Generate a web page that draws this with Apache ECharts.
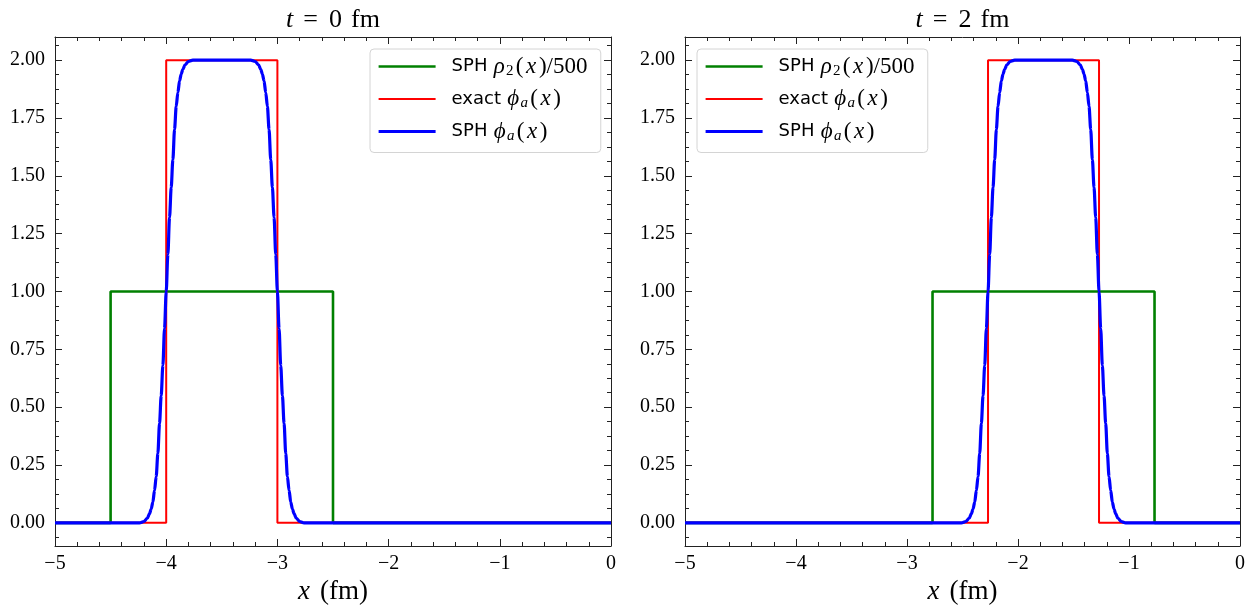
<!DOCTYPE html>
<html><head><meta charset="utf-8">
<script src="https://cdn.jsdelivr.net/npm/echarts@6/dist/echarts.min.js"></script>
<style>html,body{margin:0;padding:0;background:#fff}#c{width:1248px;height:607px}</style>
</head><body><div id="c"></div>
<script>
// ---- data ----
const panelTitles = ['0', '2']; // t = ... fm
const yMajorTicks = [0, 0.25, 0.5, 0.75, 1, 1.25, 1.5, 1.75, 2];
const yMinorTicks = [-0.0625, 0.0625, 0.125, 0.1875, 0.3125, 0.375, 0.4375, 0.5625, 0.625, 0.6875,
  0.8125, 0.875, 0.9375, 1.0625, 1.125, 1.1875, 1.3125, 1.375, 1.4375, 1.5625, 1.625, 1.6875,
  1.8125, 1.875, 1.9375, 2.0625];

// left panel (t = 0 fm)
const greenLeftX = [-5, -4.5, -4.5, -2.5, -2.5, 0];
const greenLeftY = [0, 0, 1, 1, 0, 0];
const redLeftX = [-5, -4, -4, -3, -3, 0];
const redLeftY = [0, 0, 2, 2, 0, 0];
const blueLeftX = [-5, -4.24, -4.20, -4.17, -4.15, -4.135, -4.12, -4.105, -4.09, -4.075, -4.06, -4.045, -4.03, -4.015,
  -4.0, -3.985, -3.97, -3.955, -3.94, -3.925, -3.91, -3.895, -3.88, -3.865, -3.85, -3.83, -3.80, -3.76,
  -3.24, -3.20, -3.17, -3.15, -3.135, -3.12, -3.105, -3.09, -3.075, -3.06, -3.045, -3.03, -3.015,
  -3.0, -2.985, -2.97, -2.955, -2.94, -2.925, -2.91, -2.895, -2.88, -2.865, -2.85, -2.83, -2.80, -2.76, 0];
const blueLeftY = [0, 0, 0.006, 0.02, 0.04, 0.06, 0.09, 0.14, 0.2, 0.3, 0.43, 0.55, 0.68, 0.84,
  1.0, 1.16, 1.32, 1.45, 1.57, 1.7, 1.8, 1.86, 1.91, 1.94, 1.96, 1.98, 1.994, 2.0,
  2.0, 1.994, 1.98, 1.96, 1.94, 1.91, 1.86, 1.8, 1.7, 1.57, 1.45, 1.32, 1.16,
  1.0, 0.84, 0.68, 0.55, 0.43, 0.3, 0.2, 0.14, 0.09, 0.06, 0.04, 0.02, 0.006, 0, 0];

// right panel (t = 2 fm)
const greenRightX = [-5, -2.77, -2.77, -0.77, -0.77, 0];
const greenRightY = [0, 0, 1, 1, 0, 0];
const redRightX = [-5, -2.27, -2.27, -1.27, -1.27, 0];
const redRightY = [0, 0, 2, 2, 0, 0];
const blueRightX = [-5, -2.51, -2.47, -2.44, -2.42, -2.405, -2.39, -2.375, -2.36, -2.345, -2.33, -2.315, -2.30, -2.285,
  -2.27, -2.255, -2.24, -2.225, -2.21, -2.195, -2.18, -2.165, -2.15, -2.135, -2.12, -2.10, -2.07, -2.03,
  -1.51, -1.47, -1.44, -1.42, -1.405, -1.39, -1.375, -1.36, -1.345, -1.33, -1.315, -1.30, -1.285,
  -1.27, -1.255, -1.24, -1.225, -1.21, -1.195, -1.18, -1.165, -1.15, -1.135, -1.12, -1.10, -1.07, -1.03, 0];
const blueRightY = [0, 0, 0.006, 0.02, 0.04, 0.06, 0.09, 0.14, 0.2, 0.3, 0.43, 0.55, 0.68, 0.84,
  1.0, 1.16, 1.32, 1.45, 1.57, 1.7, 1.8, 1.86, 1.91, 1.94, 1.96, 1.98, 1.994, 2.0,
  2.0, 1.994, 1.98, 1.96, 1.94, 1.91, 1.86, 1.8, 1.7, 1.57, 1.45, 1.32, 1.16,
  1.0, 0.84, 0.68, 0.55, 0.43, 0.3, 0.2, 0.14, 0.09, 0.06, 0.04, 0.02, 0.006, 0, 0];

// ---- chart ----
const zip = (xs, ys) => xs.map((x, i) => [x, ys[i]]);
const AX = '#222';
const SERIF = 'Liberation Serif';

function xAx(grid, pos, labels) {
  return {
    type: 'value', gridIndex: grid, position: pos, min: -5, max: 0, interval: 1,
    axisLine: { onZero: false, lineStyle: { color: AX, width: 1 } },
    axisTick: { inside: true, length: 7, lineStyle: { color: AX } },
    minorTick: { show: true, splitNumber: 5, length: 4, lineStyle: { color: AX } },
    splitLine: { show: false }, minorSplitLine: { show: false },
    axisLabel: { show: labels, margin: 8, fontFamily: SERIF, fontSize: 20, color: '#000',
      formatter: v => v === 0 ? '0' : '\u2212' + Math.abs(v) },
    name: labels ? '{i|x}{r|(fm)}' : '', nameLocation: 'middle', nameGap: 32,
    nameTextStyle: { fontFamily: SERIF, fontSize: 27, color: '#000',
      rich: { i: { fontFamily: SERIF, fontStyle: 'italic', fontSize: 27, color: '#000', padding: [0, 10, 0, 0] },
              r: { fontFamily: SERIF, fontSize: 27, color: '#000' } } }
  };
}
function yAx(grid, pos, major, labels) {
  return {
    type: 'value', gridIndex: grid, position: pos, min: -0.1, max: 2.1,
    axisLine: { show: major, onZero: false, lineStyle: { color: AX, width: 1 } },
    axisTick: { inside: true, length: major ? 7 : 4, customValues: major ? yMajorTicks : yMinorTicks, lineStyle: { color: AX } },
    splitLine: { show: false },
    axisLabel: { show: labels, customValues: yMajorTicks, margin: 10, fontFamily: SERIF, fontSize: 20, color: '#000',
      formatter: v => v.toFixed(2) }
  };
}

const legendText = {
  rho: '{s|SPH}{m|ρ}{sub|2}{r|(}{m|x}{r|)/500}',
  exact: '{s|exact}{m|ϕ}{subi|a}{r|(}{m|x}{r|)}',
  sph: '{s|SPH}{m|ϕ}{subi|a}{r|(}{m|x}{r|)}'
};
const legendRich = {
  s: { fontFamily: 'DejaVu Sans', fontSize: 18, color: '#000', lineHeight: 24, padding: [0, 5, 0, 11] },
  m: { fontFamily: SERIF, fontStyle: 'italic', fontSize: 23, color: '#000', lineHeight: 24, padding: [0, 1.3, 0, 1.3] },
  r: { fontFamily: SERIF, fontSize: 23, color: '#000', lineHeight: 24, padding: [0, 1.3, 0, 1.3] },
  sub: { fontFamily: SERIF, fontSize: 15, color: '#000', lineHeight: 15, verticalAlign: 'bottom', padding: [0, 1, 0, 0] },
  subi: { fontFamily: SERIF, fontStyle: 'italic', fontSize: 15, color: '#000', lineHeight: 15, verticalAlign: 'bottom', padding: [0, 1, 0, 0] }
};
function mkLegend(left) {
  return {
    left: left, top: 49, orient: 'vertical', data: ['rho', 'exact', 'sph'],
    itemWidth: 57, itemHeight: 14, itemGap: 9, padding: [6, 12, 9, 7],
    backgroundColor: 'rgba(255,255,255,0.85)', borderColor: '#d4d4d4', borderWidth: 1, borderRadius: 4,
    itemStyle: { opacity: 0, borderWidth: 0 },
    lineStyle: { width: 'inherit' },
    selectedMode: false, formatter: n => legendText[n], textStyle: { rich: legendRich }
  };
}
function mkSeries(grid, gX, gY, rX, rY, bX, bY) {
  const xi = grid * 2, yi = grid * 4;
  const base = { type: 'line', xAxisIndex: xi, yAxisIndex: yi, symbol: 'none', animation: false, silent: true };
  return [
    Object.assign({}, base, { name: 'rho', data: zip(gX, gY), lineStyle: { color: '#008000', width: 2.6 }, itemStyle: { color: '#008000' }, z: 2 }),
    Object.assign({}, base, { name: 'exact', data: zip(rX, rY), lineStyle: { color: '#ff0000', width: 2 }, itemStyle: { color: '#ff0000' }, z: 3 }),
    Object.assign({}, base, { name: 'sph', data: zip(bX, bY), smooth: 0.3, smoothMonotone: 'x', lineStyle: { color: '#0000ff', width: 3.2 }, itemStyle: { color: '#0000ff' }, z: 4 })
  ];
}

const centers = [333, 962.5];
const option = {
  animation: false,
  backgroundColor: '#fff',
  grid: [
    { left: 55, top: 37, width: 556, height: 509, containLabel: false, outerBoundsMode: 'none' },
    { left: 685, top: 37, width: 555, height: 509, containLabel: false, outerBoundsMode: 'none' }
  ],
  xAxis: [xAx(0, 'bottom', true), xAx(0, 'top', false), xAx(1, 'bottom', true), xAx(1, 'top', false)],
  yAxis: [yAx(0, 'left', true, true), yAx(0, 'left', false, false), yAx(0, 'right', true, false), yAx(0, 'right', false, false),
          yAx(1, 'left', true, true), yAx(1, 'left', false, false), yAx(1, 'right', true, false), yAx(1, 'right', false, false)],
  legend: [mkLegend(370), mkLegend(697)],
  graphic: panelTitles.map((t, i) => ({
    type: 'text', x: centers[i], y: 20,
    style: { text: '{i|t}{eq|=}{r|' + t + '}{r2|fm}', align: 'center', verticalAlign: 'middle',
      fontFamily: SERIF, fontSize: 26, fill: '#000',
      rich: { i: { fontFamily: SERIF, fontStyle: 'italic', fontSize: 26, fill: '#000', padding: [0, 10, 0, 0] },
              eq: { fontFamily: SERIF, fontSize: 26, fill: '#000', padding: [0, 11, 0, 0] },
              r: { fontFamily: SERIF, fontSize: 26, fill: '#000', padding: [0, 9, 0, 0] },
              r2: { fontFamily: SERIF, fontSize: 26, fill: '#000' } } }
  })),
  series: [].concat(
    mkSeries(0, greenLeftX, greenLeftY, redLeftX, redLeftY, blueLeftX, blueLeftY),
    mkSeries(1, greenRightX, greenRightY, redRightX, redRightY, blueRightX, blueRightY)
  )
};
const chart = echarts.init(document.getElementById('c'), null, { renderer: 'canvas' });
chart.setOption(option);
</script></body></html>
